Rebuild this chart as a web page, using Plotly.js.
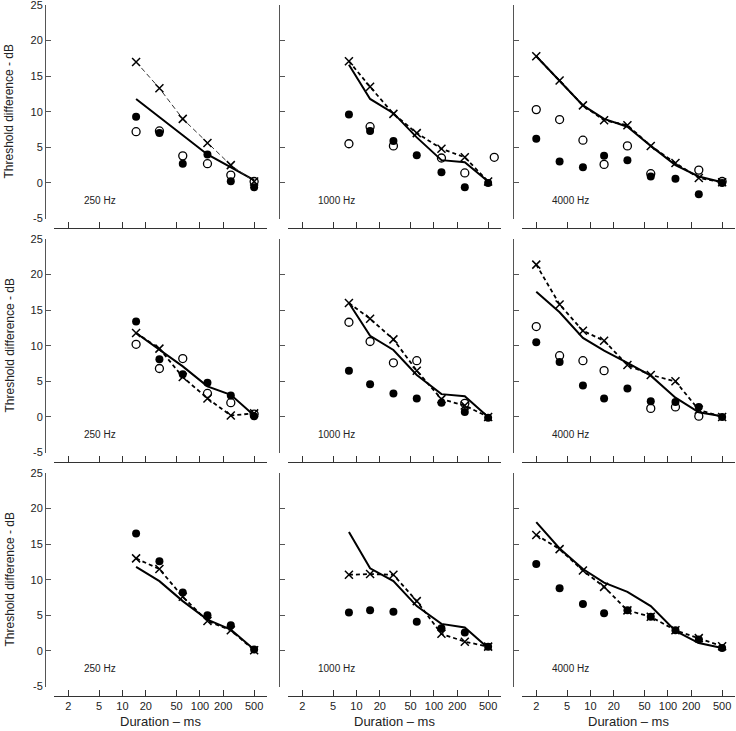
<!DOCTYPE html>
<html>
<head>
<meta charset="utf-8">
<script src="https://cdn.plot.ly/plotly-3.0.1.min.js"></script>
<style>html,body{margin:0;padding:0;background:#fff;}#chart{width:736px;height:731px;}</style>
</head>
<body>
<div id="chart"></div>
<script>
// Durations (ms)
const dur250 = [15, 30, 60, 125, 250, 500];
const dur1000 = [8, 15, 30, 60, 125, 250, 500];
const dur1000open = [8, 15, 30, 60, 125, 250, 600];
const dur4000 = [2, 4, 8, 15, 30, 60, 125, 250, 500];

const freqLabels = ["250 Hz", "1000 Hz", "4000 Hz"];
const xTickVals = [2, 5, 10, 20, 50, 100, 200, 500];
const xTickText = ["2", "5", "10", "20", "50", "100", "200", "500"];
const yTickVals = [-5, 0, 5, 10, 15, 20, 25];
const yTickText = ["-5", "0", "5", "10", "15", "20", "25"];

// Row 1
const r1_250_solid  = [11.8, 9.3, 6.7, 4.0, 2.2, 0.4];
const r1_250_cross  = [17.0, 13.3, 9.0, 5.6, 2.5, 0.2];
const r1_250_filled = [9.3, 7.0, 2.7, 4.0, 0.25, -0.6];
const r1_250_open   = [7.2, 7.3, 3.8, 2.7, 1.1, 0.2];

const r1_1000_solid  = [16.6, 11.8, 9.8, 6.4, 3.2, 2.9, 0.2];
const r1_1000_cross  = [17.1, 13.5, 9.7, 7.0, 4.8, 3.6, 0.2];
const r1_1000_filled = [9.6, 7.3, 5.9, 3.9, 1.5, -0.6, 0.0];
const r1_1000_open   = [5.5, 7.9, 5.2, null, 3.5, 1.4, 3.6];

const r1_4000_solid  = [17.8, 14.4, 10.9, 9.0, 7.9, 5.2, 2.5, 0.9, 0.1];
const r1_4000_cross  = [17.8, 14.4, 10.9, 8.8, 8.1, 5.2, 2.8, 0.7, 0.1];
const r1_4000_filled = [6.2, 3.0, 2.2, 3.8, 3.2, 0.9, 0.6, -1.6, 0.0];
const r1_4000_open   = [10.3, 8.9, 6.0, 2.6, 5.2, 1.3, null, 1.8, 0.2];

// Row 2
const r2_250_solid  = [11.8, 9.5, 7.1, 4.3, 3.1, 0.2];
const r2_250_cross  = [11.8, 9.6, 5.6, 2.6, 0.2, 0.5];
const r2_250_filled = [13.4, 8.1, 6.0, 4.8, 3.0, 0.1];
const r2_250_open   = [10.2, 6.8, 8.2, 3.3, 2.0, 0.4];

const r2_1000_solid  = [16.0, 11.4, 9.4, 5.9, 3.2, 2.9, 0.0];
const r2_1000_cross  = [16.0, 13.8, 10.9, 6.5, 2.5, 1.6, 0.0];
const r2_1000_filled = [6.5, 4.6, 3.3, 2.6, 2.0, 0.7, -0.1];
const r2_1000_open   = [13.3, 10.6, 7.6, 7.9, null, 1.9, null];

const r2_4000_solid  = [17.6, 14.7, 11.1, 9.3, 7.6, 5.8, 2.7, 0.65, 0.1];
const r2_4000_cross  = [21.4, 15.8, 12.1, 10.7, 7.3, 5.9, 5.0, 1.0, 0.0];
const r2_4000_filled = [10.5, 7.7, 4.4, 2.6, 4.0, 2.2, 2.1, 1.4, 0.0];
const r2_4000_open   = [12.7, 8.6, 7.9, 6.5, null, 1.2, 1.4, 0.1, null];

// Row 3
const r3_250_solid  = [11.8, 9.8, 7.0, 4.4, 3.0, 0.2];
const r3_250_cross  = [13.0, 11.5, 7.6, 4.2, 2.9, 0.1];
const r3_250_filled = [16.5, 12.6, 8.2, 5.0, 3.6, 0.2];

const r3_1000_solid  = [16.7, 11.6, 9.8, 6.3, 3.8, 3.3, 0.4];
const r3_1000_cross  = [10.7, 10.8, 10.7, 7.0, 2.4, 1.3, 0.6];
const r3_1000_filled = [5.4, 5.7, 5.5, 4.1, 3.2, 2.6, 0.6];

const r3_4000_solid  = [18.1, 14.4, 11.5, 9.6, 8.3, 6.3, 2.8, 1.1, 0.4];
const r3_4000_cross  = [16.3, 14.3, 11.3, 9.0, 5.7, 4.8, 2.9, 1.8, 0.65];
const r3_4000_filled = [12.2, 8.8, 6.6, 5.3, 5.7, 4.8, 2.9, 1.6, 0.4];

const panels = [
  {d: dur250, dOpen: dur250, solid: r1_250_solid, cross: r1_250_cross, filled: r1_250_filled, open: r1_250_open, thin: true},
  {d: dur1000, dOpen: dur1000open, solid: r1_1000_solid, cross: r1_1000_cross, filled: r1_1000_filled, open: r1_1000_open},
  {d: dur4000, dOpen: dur4000, solid: r1_4000_solid, cross: r1_4000_cross, filled: r1_4000_filled, open: r1_4000_open},
  {d: dur250, dOpen: dur250, solid: r2_250_solid, cross: r2_250_cross, filled: r2_250_filled, open: r2_250_open},
  {d: dur1000, dOpen: dur1000, solid: r2_1000_solid, cross: r2_1000_cross, filled: r2_1000_filled, open: r2_1000_open},
  {d: dur4000, dOpen: dur4000, solid: r2_4000_solid, cross: r2_4000_cross, filled: r2_4000_filled, open: r2_4000_open},
  {d: dur250, solid: r3_250_solid, cross: r3_250_cross, filled: r3_250_filled},
  {d: dur1000, solid: r3_1000_solid, cross: r3_1000_cross, filled: r3_1000_filled},
  {d: dur4000, solid: r3_4000_solid, cross: r3_4000_cross, filled: r3_4000_filled}
];

const W = 736, H = 731;
const FONT = "Liberation Sans, Arial, Helvetica, sans-serif";
const traces = [];
const layout = {
  width: W, height: H,
  margin: {l: 0, r: 0, t: 0, b: 0},
  paper_bgcolor: "#fff", plot_bgcolor: "rgba(0,0,0,0)",
  showlegend: false,
  font: {family: FONT, color: "#222", size: 11},
  annotations: []
};

panels.forEach((p, i) => {
  const r = Math.floor(i / 3), c = i % 3;
  const n = i + 1;
  const xa = "x" + (n === 1 ? "" : n), ya = "y" + (n === 1 ? "" : n);
  const xKey = "xaxis" + (n === 1 ? "" : n), yKey = "yaxis" + (n === 1 ? "" : n);
  const x0 = 54 + 234 * c, x1 = 267 + 234 * c;
  const yTop = 5 + 234 * r, yBot = 218.5 + 234 * r;
  const xLine = 228 + 234 * r;
  const yLine = 45 + 234 * c;

  layout[xKey] = {
    type: "log", range: [0.117, 2.865],
    domain: [x0 / W, x1 / W],
    anchor: "free", position: 1 - xLine / H,
    showline: true, linecolor: "#333", linewidth: 1,
    ticks: "inside", ticklen: 6, tickcolor: "#333", tickwidth: 1,
    tickvals: xTickVals, ticktext: xTickText,
    showticklabels: r === 2, ticklabeloverflow: "allow",
    tickfont: {size: 11, family: FONT, color: "#222"},
    showgrid: false, zeroline: false, fixedrange: true
  };
  layout[yKey] = {
    range: [-5, 25],
    domain: [1 - yBot / H, 1 - yTop / H],
    anchor: "free", position: yLine / W,
    showline: true, linecolor: "#555", linewidth: 1,
    ticks: "inside", ticklen: 5, tickcolor: "#555", tickwidth: 1,
    tickvals: yTickVals, ticktext: yTickText,
    showticklabels: c === 0, ticklabeloverflow: "allow",
    tickfont: {size: 11, family: FONT, color: "#222"},
    showgrid: false, zeroline: false, fixedrange: true
  };

  traces.push({
    x: p.d, y: p.solid, xaxis: xa, yaxis: ya, mode: "lines",
    line: {color: "#000", width: 2}, cliponaxis: false, hoverinfo: "skip"
  });
  traces.push({
    x: p.d, y: p.cross, xaxis: xa, yaxis: ya, mode: "lines+markers",
    line: p.thin ? {color: "#333", width: 1, dash: "5px,3px"} : {color: "#000", width: 1.8, dash: "4px,3px"},
    marker: {symbol: "x-thin", size: 8, color: "#000", line: {color: "#000", width: 1.5}},
    cliponaxis: false, hoverinfo: "skip"
  });
  if (p.open) {
    traces.push({
      x: p.dOpen, y: p.open, xaxis: xa, yaxis: ya, mode: "markers",
      marker: {symbol: "circle-open", size: 8, color: "#000", line: {color: "#000", width: 1.3}},
      cliponaxis: false, hoverinfo: "skip"
    });
  }
  traces.push({
    x: p.d, y: p.filled, xaxis: xa, yaxis: ya, mode: "markers",
    marker: {symbol: "circle", size: 8, color: "#000"},
    cliponaxis: false, hoverinfo: "skip"
  });

  layout.annotations.push({
    xref: xa, yref: ya, x: 0.478, y: -2.4, xanchor: "left", yanchor: "middle",
    text: freqLabels[c], showarrow: false, font: {size: 10, family: FONT, color: "#222"}
  });
});

for (let r = 0; r < 3; r++) {
  layout.annotations.push({
    xref: "paper", yref: "paper", x: 9 / W, y: 1 - (111.5 + 234 * r) / H,
    xanchor: "center", yanchor: "middle", textangle: -90,
    text: "Threshold difference - dB", showarrow: false,
    font: {size: 12, family: FONT, color: "#222"}
  });
}
for (let c = 0; c < 3; c++) {
  layout.annotations.push({
    xref: "paper", yref: "paper", x: (160.5 + 234 * c) / W, y: 1 - 721 / H,
    xanchor: "center", yanchor: "middle",
    text: "Duration \u2013 ms", showarrow: false,
    font: {size: 13, family: FONT, color: "#222"}
  });
}

Plotly.newPlot("chart", traces, layout, {staticPlot: true, displayModeBar: false});
</script>
</body>
</html>
